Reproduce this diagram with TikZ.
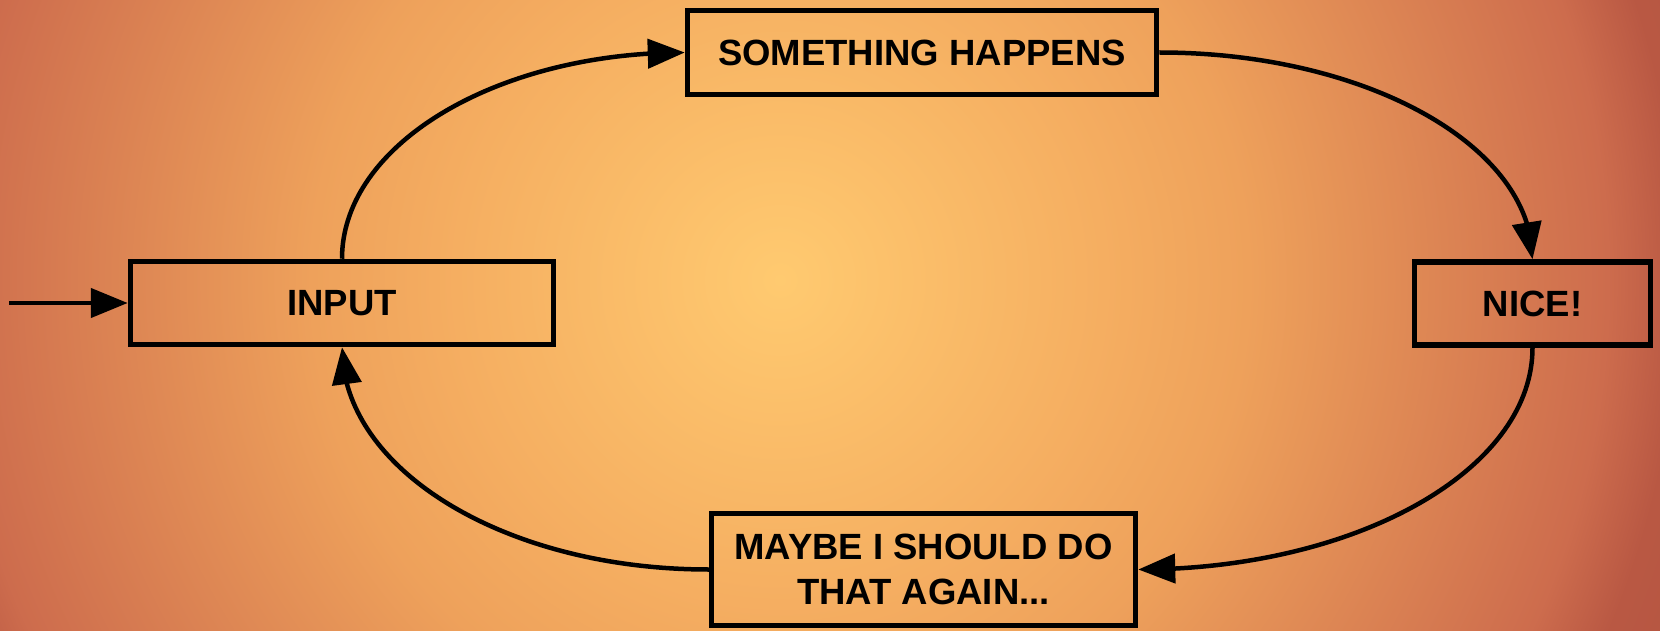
\documentclass[tikz,border=0pt]{standalone}
\usepackage{fontspec}
\usetikzlibrary{arrows.meta,bending}
\newfontfamily\boxfont{Liberation Sans}[BoldFont={Liberation Sans Bold}]

\definecolor{glowA}{HTML}{FFCA70}
\definecolor{glowB}{HTML}{F5AE61}
\definecolor{glowC}{HTML}{EEA15B}
\definecolor{glowD}{HTML}{CD6C4D}
\definecolor{glowE}{HTML}{B95843}
\definecolor{glowF}{HTML}{944234}
\pgfdeclareradialshading{sunset}{\pgfpoint{0bp}{0bp}}{%
  color(0bp)=(glowA); color(9bp)=(glowB); color(13bp)=(glowC);
  color(23bp)=(glowD); color(25bp)=(glowE); color(50bp)=(glowF)}

\begin{document}
\begin{tikzpicture}[x=1pt, y=-1pt,
            stage/.style={draw, line width=5.5pt, inner sep=0pt, align=center,
                font=\boxfont\bfseries\fontsize{36.5}{45}\selectfont},
            flow/.style={line width=4.5pt, -{Triangle[length=37pt,width=29pt,flex]}}
            ]
            \useasboundingbox (0,0) rectangle (1660,631);
            \begin{scope}
                \clip (0,0) rectangle (1660,631);
                \fill[shading=sunset] (-120,-620) rectangle (1680,1180);
            \end{scope}

            \node[stage, minimum width=423, minimum height=83] (input) at (342,303) {INPUT};
            \node[stage, minimum width=469, minimum height=84] (happens) at (922,52.5) {SOMETHING HAPPENS};
            \node[stage, minimum width=236, minimum height=83] (nice) at (1532.5,303.5) {NICE!};
            \node[stage, minimum width=424, minimum height=112] (again) at (923.5,569.5) {MAYBE I SHOULD DO\\THAT AGAIN...};
            \coordinate (entry) at (9,303);

            \draw[flow] (entry) -- (input.west);
            \draw[flow] (input.north) .. controls +(0,-114) and +(-189,0) .. (happens.west);
            \draw[flow] (happens.east) .. controls +(206,0) and +(0,-114) .. (nice.north);
            \draw[flow] (nice.south) .. controls +(0,123) and +(217,0) .. (again.east);
            \draw[flow] (again.west) .. controls +(-203,0) and +(0,123) .. (input.south);
        \end{tikzpicture}
\end{document}
